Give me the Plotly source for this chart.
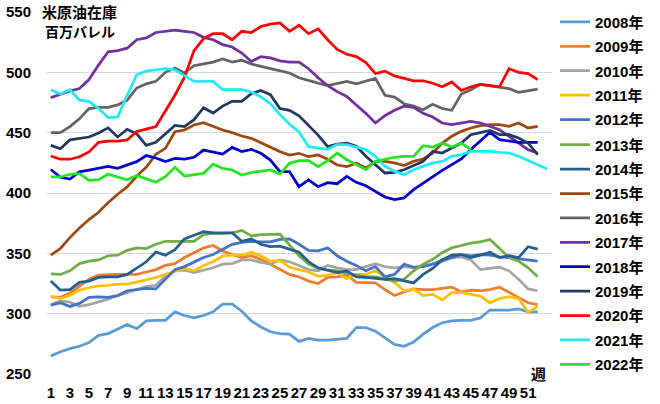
import plotly.graph_objects as go

# 米原油在庫 (百万バレル), weekly, 2008-2022
y2008 = [265, 268.5, 271, 273, 276, 282, 283.5, 287.5, 291, 287.5,
         294, 294.5, 294.5, 301.5, 298.5, 296.5, 298.5, 301.5, 308, 308,
         302, 294, 289, 285, 283.5, 283, 277, 279.5, 278, 278,
         278.5, 279.5, 288.5, 288.5, 285.5, 280, 274.5, 273, 276.5, 283,
         288.5, 292.5, 294, 294.5, 294.5, 296.5, 303, 303, 303, 304,
         301.5, 301.5]
y2009 = [314, 313.5, 317, 322.5, 328.5, 332, 332.5, 332.5, 332.5, 332.5,
         334.5, 336.5, 340, 341.5, 346.5, 350.5, 354.5, 356.5, 352, 349,
         346.5, 348, 345, 341, 337, 332.5, 330.5, 327, 325, 330,
         330.5, 332, 326, 326, 325.5, 320, 315, 318, 320.5, 320,
         320, 321, 322, 318, 319.5, 319, 320, 322, 317.5, 313.5,
         309, 307.5]
y2010 = [307.5, 310.5, 309.5, 306, 307.5, 309.5, 312, 315, 317.5, 319.5,
         322.5, 323.5, 331, 335.5, 336, 334, 336, 338, 341, 341.5,
         344.5, 344.5, 342.5, 341, 344.5, 343, 340, 336.5, 335.5, 340,
         338, 336.5, 336.5, 339, 341.5, 339, 338, 339, 338, 339.5,
         341, 343, 346.5, 347, 344.5, 336.5, 337.5, 338.5, 335.5, 328.5,
         320.5, 319]
y2011 = [314.5, 312.5, 315, 319.5, 321.5, 323, 323.5, 324.5, 324.5, 326,
         328, 330, 332.5, 335.5, 337.5, 335.5, 340, 343, 348, 348.5,
         348.5, 351, 348, 343.5, 344, 338.5, 336.5, 334.5, 331, 332,
         334, 329, 332.5, 332.5, 335.5, 330.5, 326, 319, 320.5, 315,
         316, 311.5, 317.5, 317.5, 316, 314.5, 309, 312.5, 314, 312.5,
         301, 306]
y2012 = [307, 309, 306, 308.5, 313.5, 314, 313.5, 315, 319, 320,
         321, 320.5, 328.5, 336.5, 339, 343, 346.5, 349, 353.5, 357.5,
         359, 360, 359.5, 359.5, 361.5, 362, 357.5, 352.5, 352, 354.5,
         348, 343.5, 340, 335.5, 339, 330.5, 332.5, 341, 338.5, 339,
         341, 344.5, 346.5, 349, 348, 349, 348.5, 347, 346.5, 345.5,
         344.5, 343.5]
y2013 = [333, 332.5, 335.5, 341.5, 343.5, 344.5, 348, 348.5, 352.5, 354.5,
         354, 357.5, 360, 360, 359.5, 360, 365.5, 366.5, 366.5, 367,
         369, 364.5, 365.5, 366, 366, 357, 348, 341, 337.5, 336,
         335.5, 333.5, 332, 330.5, 330.5, 328.5, 327, 328.5, 335.5, 341,
         345, 350.5, 354.5, 356.5, 358.5, 359.5, 361.5, 354, 346.5, 343.5,
         338, 330.5]
y2014 = [327, 319.5, 320, 326, 327, 330, 330.5, 330.5, 332.5, 337.5,
         343, 351, 348.5, 353, 362, 365, 368, 367, 367, 367,
         360, 362, 357.5, 355.5, 356, 353.5, 351, 343, 338, 336,
         334, 335.5, 330.5, 330, 329, 328.5, 329, 327, 325.5, 332.5,
         337.5, 344.5, 348.5, 349, 346.5, 348.5, 351, 346.5, 348, 346.5,
         355.5, 353.5]
y2015 = [348.5, 354, 363, 371, 378, 384, 392, 399, 405, 414,
         421.5, 432, 437, 450.8, 452.2, 456.4, 458.3, 455, 452.2, 450,
         447.2, 445.3, 441.7, 438.4, 434.3, 431.5, 432.9, 430.1, 431.5, 427.9,
         423.2, 421.8, 424.6, 420.7, 426.2, 426.2, 424.9, 422.7, 426.2, 428.2,
         433.1, 441.4, 447, 451.1, 453.9, 455.8, 456.6, 456.6, 455.2, 458,
         453.9, 455.2]
y2016 = [450, 450, 455, 461.5, 470, 471, 471, 473, 477, 487,
         490.5, 492.5, 500, 503.5, 499.5, 505.5, 507, 508.5, 511, 508.5,
         510, 507, 505, 503, 501.5, 499.5, 495.5, 493, 491, 489,
         491, 492.5, 490.5, 493, 495, 481, 479.5, 474, 472, 469,
         473.5, 470, 468.5, 482, 485.5, 490, 489, 488, 486.5, 483.5,
         485, 486]
y2017 = [479, 482, 484.5, 486.5, 494, 506, 517, 518, 520, 527,
         528.5, 533, 534, 535, 534, 533, 529, 527, 523, 521,
         516, 509, 513, 512, 509.5, 508.5, 508.5, 503, 495.5, 489,
         484, 480, 473, 466, 458, 464, 468.5, 472, 471, 466,
         463, 458, 456.6, 458, 459.4, 458, 455.2, 452.5, 447, 441.4,
         435.9, 433.1]
y2018 = [419.5, 413, 411.5, 417.5, 419, 420.5, 422, 420.5, 423.5, 426,
         431, 429, 426, 428.7, 428, 429.6, 435.6, 433.7, 432.3, 437.8,
         434.3, 436.2, 432.9, 427.3, 417.7, 417.7, 405.2, 410.8, 405.2, 408.6,
         407.7, 413.8, 408.8, 406, 401.4, 396.7, 394.5, 395.9, 402.8, 408.3,
         413.8, 418.8, 423.5, 428.2, 436, 442.8, 450.3, 444.2, 442.8, 442,
         442, 442]
y2019 = [439.5, 436.7, 444, 445, 446.4, 449.7, 454, 446.4, 452.8, 449,
         439.5, 442, 449, 456, 455, 460.8, 470.7, 466.3, 472, 476,
         476, 482.3, 485, 481.5, 470, 468.5, 464, 456.4, 448, 438.4,
         440.6, 441.4, 438.7, 430.4, 423.5, 416.6, 417.1, 419.3, 422.7, 426.2,
         434.5, 433.1, 437.3, 441.4, 448.3, 450.3, 451.9, 448.3, 448.3, 445.6,
         441.4, 431.8]
y2020 = [430.7, 428, 428, 430, 434, 442, 443, 443, 444, 451,
         453, 455, 468, 481, 496, 518, 528, 532, 532, 527,
         534, 533, 538, 540, 541, 534, 539, 532, 536, 527,
         519, 515, 513, 508, 499, 501, 497, 495, 493, 493,
         491, 488, 492, 485, 488, 490, 489, 488, 503, 500,
         499, 494]
y2021 = [485.6, 482, 485.6, 477, 476, 470, 462.4, 463, 481, 498,
         501, 502, 503, 502, 497.5, 492.5, 492.5, 492.5, 485.6, 485.6,
         485.6, 483.7, 479.6, 474, 465, 457, 450.6, 438.4, 437, 436.2,
         440, 440, 438, 436, 430.4, 422.1, 418, 415.2, 419.3, 422.1,
         424.9, 426.2, 430.4, 431.8, 434.5, 434.5, 434.5, 433.7, 433.1, 430.4,
         427.1, 423.5, 419.9]
y2022 = [413.3, 413.3, 415.5, 416, 410.5, 411, 415.5, 413.3, 411, 414.6,
         411.9, 409, 413.5, 421.3, 414.1, 414.9, 416.3, 424, 420.4, 419.1,
         414.9, 416.9, 417.7, 419.1, 415.7, 424.6, 426.8, 426.8, 421.8, 426.8,
         433.1, 427.6, 423.5, 419.3, 426.2, 428.2, 429.6, 430.4, 430.4, 439.2,
         438.1, 441.4, 438.1, 441.4, 435.9]

names = ['2008年', '2009年', '2010年', '2011年', '2012年', '2013年', '2014年', '2015年',
         '2016年', '2017年', '2018年', '2019年', '2020年', '2021年', '2022年']
series = [y2008, y2009, y2010, y2011, y2012, y2013, y2014, y2015,
          y2016, y2017, y2018, y2019, y2020, y2021, y2022]
colors = ['#5b9bd5', '#ed7d31', '#a5a5a5', '#ffc000', '#4472c4', '#70ad47', '#255e91', '#9e480e',
          '#636363', '#7030a0', '#0000cc', '#1f3864', '#ff0000', '#22eaf2', '#22e622']

week_ticks = list(range(1, 52, 2))

FONT = 'Liberation Sans, Arial, Noto Sans CJK JP'

# 15 entries don't fit one plotly legend at this spacing, so use three stacked ones
leg_ids = ['legend', 'legend2', 'legend3']

fig = go.Figure()
for i, (name, ys, col) in enumerate(zip(names, series, colors)):
    fig.add_trace(go.Scatter(
        x=list(range(1, len(ys) + 1)), y=ys, name=name, mode='lines',
        legendgroup=name, legend=leg_ids[i // 5],
        line=dict(color=col, width=2.75)))

leg = dict(x=1.006, xanchor='left', yanchor='top', yref='container',
           tracegroupgap=1.9, font=dict(size=15, weight='bold'),
           bgcolor='rgba(0,0,0,0)')

fig.update_layout(
    width=660, height=404,
    margin=dict(l=47, r=108, t=12, b=30, autoexpand=False),
    paper_bgcolor='white', plot_bgcolor='white',
    font=dict(family=FONT, size=15, color='black', weight='bold'),
    showlegend=True,
    legend=dict(leg, y=0.986),
    legend2=dict(leg, y=0.682),
    legend3=dict(leg, y=0.380),
    xaxis=dict(range=[0.6, 53.5], tickmode='array', tickvals=week_ticks,
               showgrid=False, zeroline=False, showline=False, ticks='',
               tickfont=dict(size=15, weight='bold'), ticklabelstandoff=8),
    yaxis=dict(range=[250, 550], tickmode='array', tickvals=[250, 300, 350, 400, 450, 500, 550],
               showgrid=True, gridcolor='#d9d9d9', gridwidth=1, zeroline=False,
               showline=False, ticks='', tickfont=dict(size=15, weight='bold'),
               ticklabelstandoff=15),
)

fig.add_annotation(x=0.065, y=1.0, xref='paper', yref='paper', xanchor='center', yanchor='middle',
                   text='米原油在庫', showarrow=False, font=dict(size=15, weight='bold'))
fig.add_annotation(x=0.065, y=0.945, xref='paper', yref='paper', xanchor='center', yanchor='middle',
                   text='百万バレル', showarrow=False, font=dict(size=14, weight='bold'))
fig.add_annotation(x=52.1, y=250, xref='x', yref='y', xanchor='center', yanchor='middle',
                   text='週', showarrow=False, bgcolor='white',
                   font=dict(size=15, weight='bold'))

fig.write_html('out.html', config={'displayModeBar': False},
               post_script="document.body.style.margin='0px';")
